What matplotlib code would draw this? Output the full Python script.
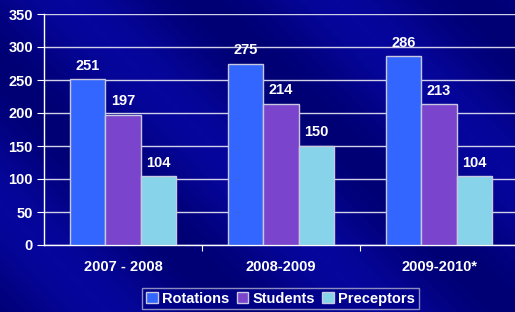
import matplotlib
matplotlib.use("Agg")
import matplotlib.pyplot as plt
import numpy as np
from matplotlib.colors import LinearSegmentedColormap

categories = ["2007 - 2008", "2008-2009", "2009-2010*"]
series_names = ["Rotations", "Students", "Preceptors"]
rotations = [251, 275, 286]
students = [197, 214, 213]
preceptors = [104, 150, 104]
yticks = [0, 50, 100, 150, 200, 250, 300, 350]

colors = ["#3366FF", "#7B44CC", "#87D4EA"]
bg = "#00008A"
plt.rcParams['font.family'] = ['Liberation Sans', 'DejaVu Sans']

fig = plt.figure(figsize=(5.15, 3.12), dpi=100)
fig.patch.set_facecolor(bg)

# subtle gradient background
bgax = fig.add_axes([0, 0, 1, 1], zorder=-10)
yy, xx = np.mgrid[0:1:200j, 0:1:300j]
grad = 0.5 + 0.5 * np.sin((xx * 2.0 - yy * 1.2) * 6.0)
cmap = LinearSegmentedColormap.from_list("bgc", ["#000074", "#06069C"])
bgax.imshow(grad, cmap=cmap, aspect="auto", extent=[0, 1, 0, 1])
bgax.axis("off")

ax = fig.add_axes([44 / 515, 1 - 245 / 312, (518 - 44) / 515, (245 - 14) / 312])
ax.set_facecolor("none")

x = np.arange(len(categories))
w = 0.222
data = [rotations, students, preceptors]
for i, (vals, c, name) in enumerate(zip(data, colors, series_names)):
    pos = x + (i - 1) * w
    ax.bar(pos, vals, width=w, color=c, edgecolor="#C8C8E0", linewidth=1.0,
           label=name, zorder=3)
    for p, v in zip(pos, vals):
        ax.text(p, v + 10, str(v), ha="center", va="bottom", color="white",
                fontsize=10.5, fontweight="bold", zorder=4)

ax.set_xlim(-0.5, 2.5)
ax.set_ylim(0, 350)
ax.set_yticks(yticks)
ax.set_yticklabels([str(t) for t in yticks], color="white", fontsize=10.5, fontweight="bold")
ax.yaxis.grid(True, color="#D0D0E8", linewidth=1.0, zorder=0)
ax.set_axisbelow(True)
ax.set_xticks([0.5, 1.5, 2.5])
ax.set_xticklabels([])
ax.set_xticks(x, minor=True)
ax.set_xticklabels(categories, minor=True, color="white", fontsize=10.5, fontweight="bold")
ax.tick_params(axis="x", which="minor", length=0, pad=11)
ax.tick_params(axis="x", which="major", length=4, color="white", direction="out")
ax.tick_params(axis="y", length=5, color="white", pad=3)
for s in ["top", "right"]:
    ax.spines[s].set_visible(False)
for s in ["left", "bottom"]:
    ax.spines[s].set_color("white")
    ax.spines[s].set_linewidth(1.0)

leg = fig.legend(loc="lower center", bbox_to_anchor=(0.545, -0.015), ncol=3, frameon=True,
                 prop={"weight": "bold", "size": 10.5}, handlelength=0.8,
                 handleheight=0.8, handletextpad=0.3, columnspacing=0.5,
                 borderpad=0.25, fancybox=False)
leg.get_frame().set_facecolor(bg)
leg.get_frame().set_edgecolor("#B0B0D0")
for t in leg.get_texts():
    t.set_color("white")

fig.savefig("out.png", dpi=100, facecolor=bg)
